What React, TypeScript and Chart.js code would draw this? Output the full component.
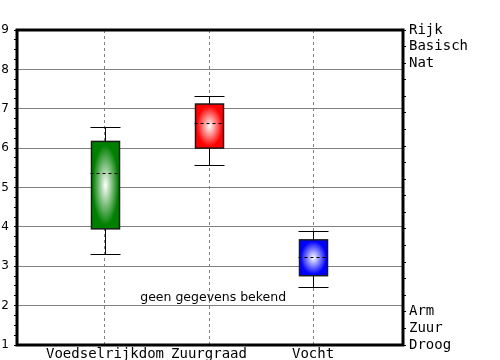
import React, { useEffect, useRef } from 'react';
import { Chart, registerables } from 'chart.js';

Chart.register(...registerables);

const categories = ['Voedselrijkdom', 'Zuurgraad', 'Vocht'];
const whiskerLow = [3.31, 5.57, 2.48];
const q1 = [3.95, 6.0, 2.76];
const median = [5.37, 6.64, 3.24];
const q3 = [6.17, 7.12, 3.67];
const whiskerHigh = [6.54, 7.32, 3.9];
const boxColors = ['#008000', '#ff0000', '#0000ff'];
const rightLabels: Record<number, string> = {
  19: 'Rijk',
  18: 'Basisch',
  17: 'Nat',
  2: 'Arm',
  1: 'Zuur',
  0: 'Droog',
};
const noteText = 'geen gegevens bekend';
const notePos = { x: 2.04, y: 2.2 };

const boxPlugin = {
  id: 'boxPlot',
  afterDatasetsDraw(chart: any) {
    const ctx = chart.ctx as CanvasRenderingContext2D;
    const yS = chart.scales.y;
    const xS = chart.scales.x;
    const meta = chart.getDatasetMeta(0);
    meta.data.forEach((bar: any, i: number) => {
      const p = bar.getProps(['x', 'y', 'base', 'width'], true);
      const cx = Math.round(p.x) + 0.5;
      const t = Math.min(p.y, p.base);
      const b = Math.max(p.y, p.base);
      const w = p.width;
      const l = cx - w / 2;
      const h = b - t;
      const yHi = Math.round(yS.getPixelForValue(whiskerHigh[i])) + 0.5;
      const yLo = Math.round(yS.getPixelForValue(whiskerLow[i])) + 0.5;
      const yMed = Math.round(yS.getPixelForValue(median[i])) + 0.5;

      ctx.save();
      ctx.strokeStyle = '#000';
      ctx.lineWidth = 1;
      ctx.beginPath();
      ctx.moveTo(cx, t);
      ctx.lineTo(cx, yHi);
      ctx.moveTo(cx - 15, yHi);
      ctx.lineTo(cx + 15, yHi);
      ctx.moveTo(cx, b);
      ctx.lineTo(cx, yLo);
      ctx.moveTo(cx - 15, yLo);
      ctx.lineTo(cx + 15, yLo);
      ctx.stroke();

      ctx.save();
      ctx.beginPath();
      ctx.rect(l, t, w, h);
      ctx.clip();
      ctx.translate(cx, (t + b) / 2);
      ctx.scale(w / 2, h / 2);
      const g = ctx.createRadialGradient(0, 0, 0, 0, 0, 1);
      g.addColorStop(0, '#ffffff');
      g.addColorStop(0.92, boxColors[i]);
      g.addColorStop(1, boxColors[i]);
      ctx.fillStyle = g;
      ctx.fillRect(-1.5, -1.5, 3, 3);
      ctx.restore();

      ctx.strokeStyle = '#1a1a1a';
      ctx.lineWidth = 1.5;
      ctx.strokeRect(l, t, w, h);

      ctx.strokeStyle = '#000';
      ctx.lineWidth = 1;
      ctx.setLineDash([3, 3]);
      ctx.beginPath();
      ctx.moveTo(cx - 15, yMed);
      ctx.lineTo(cx + 14, yMed);
      ctx.stroke();
      ctx.restore();
    });

    ctx.save();
    ctx.fillStyle = '#000';
    ctx.font = '12.5px "DejaVu Sans"';
    ctx.textAlign = 'center';
    ctx.textBaseline = 'middle';
    ctx.fillText(noteText, xS.getPixelForValue(notePos.x), yS.getPixelForValue(notePos.y));
    ctx.restore();
  },
  afterDraw(chart: any) {
    const ctx = chart.ctx as CanvasRenderingContext2D;
    const a = chart.chartArea;
    ctx.save();
    ctx.strokeStyle = '#000';
    ctx.lineWidth = 3;
    ctx.strokeRect(a.left, a.top, a.right - a.left, a.bottom - a.top);
    ctx.restore();
  },
};

export default function App() {
  const ref = useRef<HTMLCanvasElement>(null);
  useEffect(() => {
    document.body.style.margin = '0';
    const canvas = ref.current!;
    const chart = new Chart(canvas, {
      type: 'bar',
      data: {
        datasets: [
          {
            data: categories.map((_, i) => ({ x: i + 1, y: [q1[i], q3[i]] })) as any,
            backgroundColor: 'rgba(0,0,0,0)',
            borderWidth: 0,
            barThickness: 28,
          },
        ],
      },
      options: {
        animation: false,
        responsive: false,
        devicePixelRatio: 1,
        layout: { padding: { top: 30, left: 0, right: 0, bottom: 0 } },
        plugins: { legend: { display: false }, tooltip: { enabled: false } },
        scales: {
          x: {
            type: 'linear',
            offset: false,
            min: 0.154,
            max: 3.865,
            afterBuildTicks: (scale: any) => {
              scale.ticks = categories.map((_, i) => ({ value: i + 1 }));
            },
            afterFit: (scale: any) => {
              scale.height = 15;
            },
            ticks: {
              autoSkip: false,
              maxRotation: 0,
              padding: 1,
              color: '#000',
              font: { family: '"DejaVu Sans Mono"', size: 14 },
              callback: (v: any) => categories[Number(v) - 1] ?? '',
            },
            grid: { offset: false, color: '#808080', lineWidth: 1, drawTicks: false },
            border: { display: false, dash: [3, 3] },
          },
          y: {
            type: 'linear',
            position: 'left',
            min: 1,
            max: 9,
            afterFit: (scale: any) => {
              scale.width = 17;
            },
            ticks: {
              stepSize: 0.25,
              autoSkip: false,
              padding: 5,
              color: '#000',
              font: { family: '"DejaVu Sans"', size: 12 },
              callback: (v: any) => (Number.isInteger(Number(v)) ? String(v) : ''),
            },
            grid: {
              color: (c: any) => (Number.isInteger(c.tick?.value) ? '#808080' : 'rgba(0,0,0,0)'),
              tickColor: '#000',
              tickLength: 3,
              lineWidth: 1,
            },
            border: { display: false },
          },
          y2: {
            type: 'linear',
            position: 'right',
            min: 0,
            max: 19,
            afterFit: (scale: any) => {
              scale.width = 97;
            },
            ticks: {
              stepSize: 1,
              autoSkip: false,
              padding: 3,
              color: '#000',
              font: { family: '"DejaVu Sans Mono"', size: 14 },
              callback: (v: any) => rightLabels[Number(v)] ?? '',
            },
            grid: { drawOnChartArea: false, tickColor: '#000', tickLength: 3 },
            border: { display: false },
          },
        },
      },
      plugins: [boxPlugin],
    });
    return () => chart.destroy();
  }, []);
  return (
    <div style={{ position: 'absolute', left: 0, top: 0, width: 500, height: 360 }}>
      <canvas ref={ref} width={500} height={360} />
    </div>
  );
}
